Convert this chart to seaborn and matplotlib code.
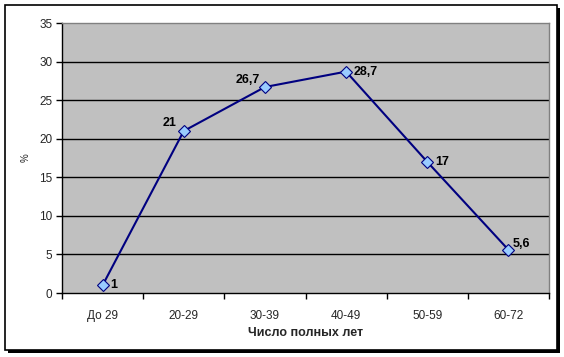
import numpy as np
import matplotlib
matplotlib.use('Agg')
import matplotlib.pyplot as plt
from matplotlib.patches import Rectangle
import seaborn as sns
import pandas as pd

categories = ['До 29', '20-29', '30-39', '40-49', '50-59', '60-72']
values = [1, 21, 26.7, 28.7, 17, 5.6]
labels = ['1', '21', '26,7', '28,7', '17', '5,6']
yticks = [0, 5, 10, 15, 20, 25, 30, 35]

sns.set_theme(style='white')
plt.rcParams['font.family'] = ['Liberation Sans', 'DejaVu Sans']

W, H = 564, 357
fig = plt.figure(figsize=(W / 100, H / 100), dpi=100)
fig.patch.set_facecolor('white')

# outer frame with shadow
fig.patches.append(Rectangle((8 / W, 1 - 353 / H), 552 / W, 345 / H, transform=fig.transFigure,
                             facecolor='black', edgecolor='none', zorder=-2))
fig.patches.append(Rectangle((5 / W, 1 - 350 / H), 552 / W, 345 / H, transform=fig.transFigure,
                             facecolor='white', edgecolor='black', lw=1.2, zorder=-1))

ax = fig.add_axes([62 / W, 1 - 293 / H, (549 - 62) / W, (293 - 23) / H])
ax.set_zorder(1)
ax.set_facecolor('#C0C0C0')

df = pd.DataFrame({'cat': categories, 'val': values})
x = np.arange(len(categories)) + 0.5
sns.lineplot(x=x, y=df['val'], ax=ax, color='#000080', lw=1.5, marker='D', markersize=6,
             markerfacecolor='#99CCFF', markeredgecolor='#000080', markeredgewidth=0.8, zorder=3)

# label placement (pixels offset, alignment) like the Excel original
offsets = [(8, 0, 'left'), (-7, 8, 'right'), (-5, 7, 'right'), (8, 0, 'left'), (8, 0, 'left'), (4, 6, 'left')]
for xi, v, lab, (dx, dy, ha) in zip(x, values, labels, offsets):
    ax.annotate(lab, (xi, v), xytext=(dx, dy), textcoords='offset pixels', ha=ha, va='center',
                fontsize=9, fontweight='bold', color='black')

ax.set_xlim(0, len(categories))
ax.set_ylim(0, 35)
ax.set_yticks(yticks)
ax.set_yticklabels([str(t) for t in yticks], fontsize=8.5)
ax.set_xticks(np.arange(len(categories) + 1))
ax.set_xticklabels([])
ax.set_xticks(x, minor=True)
ax.set_xticklabels(categories, minor=True, fontsize=8.5)
ax.tick_params(axis='x', which='major', direction='out', length=4, width=1, color='black', bottom=True)
ax.tick_params(axis='x', which='minor', length=0, pad=12)
ax.tick_params(axis='y', direction='out', length=4, width=1, color='black', left=True, pad=3)

for t in yticks[1:-1]:
    ax.axhline(t, color='black', lw=1, zorder=1)

for s in ['top', 'right']:
    ax.spines[s].set_color('#808080')
    ax.spines[s].set_linewidth(1)
for s in ['left', 'bottom']:
    ax.spines[s].set_color('black')
    ax.spines[s].set_linewidth(1)

ax.set_xlabel('Число полных лет', fontsize=9, fontweight='bold', labelpad=4)
ax.set_ylabel('%', fontsize=7, labelpad=6)

fig.savefig('out.png', dpi=100)
